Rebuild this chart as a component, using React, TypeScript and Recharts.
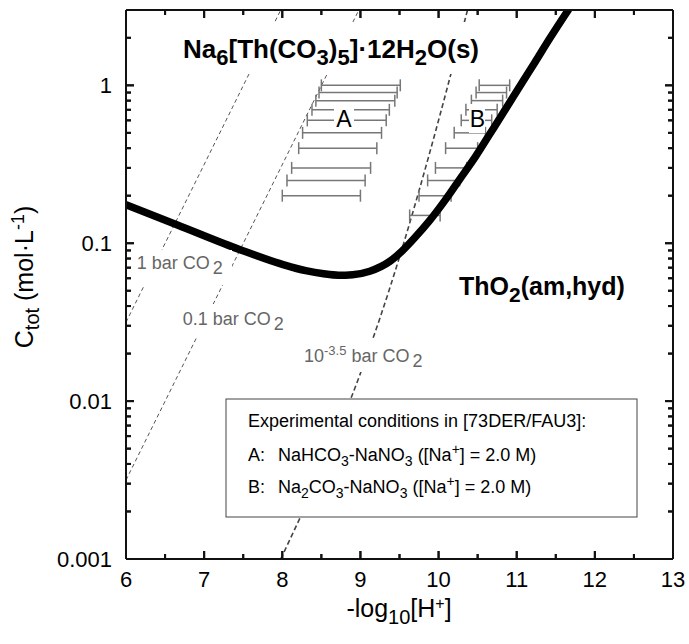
import type { ReactNode } from 'react';
import { ComposedChart, Line, Scatter, ErrorBar, XAxis, YAxis } from 'recharts';

// axis ticks
const xTicks = [6, 6.5, 7, 7.5, 8, 8.5, 9, 9.5, 10, 10.5, 11, 11.5, 12, 12.5, 13];
const xLabels = [6, 7, 8, 9, 10, 11, 12, 13];
const yTicks = [
  0.001, 0.002, 0.003, 0.004, 0.005, 0.006, 0.007, 0.008, 0.009,
  0.01, 0.02, 0.03, 0.04, 0.05, 0.06, 0.07, 0.08, 0.09,
  0.1, 0.2, 0.3, 0.4, 0.5, 0.6, 0.7, 0.8, 0.9,
  1, 2, 3,
];
const yLabels = [0.001, 0.01, 0.1, 1];
const xMin = 6;
const xMax = 13;
const yMin = 0.001;
const yMax = 3;

// ThO2(am,hyd) / Na6[Th(CO3)5]·12H2O(s) solubility boundary
const solPh = [6.0, 6.65, 7.46, 8.02, 8.3, 8.53, 8.72, 8.9, 9.12, 9.38, 9.53, 9.7, 9.89, 10.08, 10.27, 10.47, 10.66, 10.85, 11.04, 11.23, 11.42, 11.66];
const solC = [0.175, 0.131, 0.091, 0.073, 0.067, 0.064, 0.0627, 0.0632, 0.0665, 0.077, 0.089, 0.109, 0.14, 0.186, 0.254, 0.352, 0.495, 0.697, 0.986, 1.39, 1.97, 3.0];

// total carbonate at fixed pCO2
const bar1Ph = [6.0, 7.98];
const bar1C = [0.0316, 3.0];
const bar01Ph = [6.0, 8.98];
const bar01C = [0.00316, 3.0];
const barAirPh = [7.98, 8.5, 9.0, 9.25, 9.5, 9.75, 10.0, 10.2, 10.37];
const barAirC = [0.001, 0.00366, 0.015, 0.0336, 0.0817, 0.215, 0.601, 1.418, 3.0];

// experimental ranges [73DER/FAU3]
const aC = [1.0, 0.9, 0.8, 0.7, 0.6, 0.5, 0.4, 0.3, 0.25, 0.2];
const aLow = [8.5, 8.47, 8.43, 8.38, 8.32, 8.26, 8.21, 8.12, 8.06, 8.0];
const aHigh = [9.51, 9.47, 9.44, 9.37, 9.33, 9.27, 9.21, 9.13, 9.06, 9.0];
const bC = [1.0, 0.9, 0.8, 0.7, 0.6, 0.5, 0.4, 0.3, 0.25, 0.2, 0.15];
const bLow = [10.52, 10.48, 10.42, 10.35, 10.29, 10.2, 10.09, 9.96, 9.86, 9.75, 9.63];
const bHigh = [10.91, 10.87, 10.82, 10.75, 10.68, 10.6, 10.5, 10.36, 10.27, 10.16, 10.02];

const toLine = (ph: number[], c: number[]) => ph.map((p, i) => ({ ph: p, c: c[i] }));
const toRange = (c: number[], lo: number[], hi: number[]) =>
  c.map((v, i) => ({ ph: (lo[i] + hi[i]) / 2, c: v, err: (hi[i] - lo[i]) / 2 }));

const solData = toLine(solPh, solC);
const bar1Data = toLine(bar1Ph, bar1C);
const bar01Data = toLine(bar01Ph, bar01C);
const barAirData = toLine(barAirPh, barAirC);
const aData = toRange(aC, aLow, aHigh);
const bData = toRange(bC, bLow, bHigh);

// inward tick marks on all four sides of the frame
const tickMarks = [
  ...xTicks.map((v) => ({ ph: v, c: yMin, side: 'bottom', major: xLabels.includes(v) })),
  ...xTicks.map((v) => ({ ph: v, c: yMax, side: 'top', major: xLabels.includes(v) })),
  ...yTicks.map((v) => ({ ph: xMin, c: v, side: 'left', major: yLabels.includes(v) })),
  ...yTicks.map((v) => ({ ph: xMax, c: v, side: 'right', major: yLabels.includes(v) })),
];

const FONT = 'Arial, "Liberation Sans", sans-serif';
const AXIS = '#111';
const LABEL_GRAY = '#666';
const axisLineStyle = { stroke: AXIS, strokeWidth: 2 };

const tickPath = (side: string, x: number, y: number, major: boolean) => {
  const len = major ? 8 : 5;
  if (side === 'bottom') return `M${x},${y}v${-len}`;
  if (side === 'top') return `M${x},${y}v${len}`;
  if (side === 'left') return `M${x},${y}h${len}`;
  return `M${x},${y}h${-len}`;
};

const TickMark = (p: any) => {
  const { cx, cy, payload } = p;
  if (!payload || cx == null || cy == null) return <g />;
  return <path d={tickPath(payload.side, cx, cy, payload.major)} stroke={AXIS} strokeWidth={2} fill="none" />;
};

const BottomTick = (p: any) => {
  const major = xLabels.includes(p.payload.value);
  return (
    <g>
      <path d={tickPath('bottom', p.x, p.y, major)} stroke={AXIS} strokeWidth={2} fill="none" />
      {major && (
        <text x={p.x} y={p.y + 28} textAnchor="middle" fontSize={22} fontFamily={FONT} fill="#000">
          {p.payload.value}
        </text>
      )}
    </g>
  );
};

const TopTick = (p: any) => (
  <path d={tickPath('top', p.x, p.y, xLabels.includes(p.payload.value))} stroke={AXIS} strokeWidth={2} fill="none" />
);

const LeftTick = (p: any) => {
  const major = yLabels.includes(p.payload.value);
  return (
    <g>
      <path d={tickPath('left', p.x, p.y, major)} stroke={AXIS} strokeWidth={2} fill="none" />
      {major && (
        <text x={p.x - 14} y={p.y + 8} textAnchor="end" fontSize={22} fontFamily={FONT} fill="#000">
          {String(p.payload.value)}
        </text>
      )}
    </g>
  );
};

const RightTick = (p: any) => (
  <path d={tickPath('right', p.x, p.y, yLabels.includes(p.payload.value))} stroke={AXIS} strokeWidth={2} fill="none" />
);

const noDot = () => <g />;

// small absolutely-placed svg, using page coordinates inside
function Box({ x, y, w, h, children }: { x: number; y: number; w: number; h: number; children: ReactNode }) {
  return (
    <svg
      width={w}
      height={h}
      viewBox={`${x} ${y} ${w} ${h}`}
      style={{ position: 'absolute', left: x, top: y, pointerEvents: 'none', overflow: 'visible' }}
      fontFamily={FONT}
    >
      {children}
    </svg>
  );
}

function Annotations() {
  return (
    <>
      {/* phase labels */}
      <Box x={170} y={15} w={335} h={65}>
        <rect x={175} y={22} width={322} height={52} fill="#fff" />
        <text x={183} y={58} fontSize={26} fontWeight="bold" fill="#000">
          Na<tspan dy={7} fontSize={22}>6</tspan>
          <tspan dy={-7}>[Th(CO</tspan>
          <tspan dy={7} fontSize={22}>3</tspan>
          <tspan dy={-7}>)</tspan>
          <tspan dy={7} fontSize={22}>5</tspan>
          <tspan dy={-7}>]·12H</tspan>
          <tspan dy={7} fontSize={22}>2</tspan>
          <tspan dy={-7}>O(s)</tspan>
        </text>
      </Box>
      <Box x={450} y={265} w={200} h={47}>
        <text x={459} y={295} fontSize={25} fontWeight="bold" fill="#000">
          ThO<tspan dy={7} fontSize={21}>2</tspan>
          <tspan dy={-7}>(am,hyd)</tspan>
        </text>
      </Box>

      {/* A / B */}
      <Box x={330} y={100} w={28} h={35}>
        <rect x={334} y={104} width={20} height={27} fill="#fff" />
        <text x={343.8} y={126.7} fontSize={23} textAnchor="middle" fill="#000">A</text>
      </Box>
      <Box x={465} y={100} w={24} h={37}>
        <rect x={469} y={104} width={16} height={29} fill="#fff" />
        <text x={477.5} y={126.7} fontSize={23} textAnchor="middle" fill="#000">B</text>
      </Box>

      {/* CO2 labels */}
      <Box x={130} y={245} w={106} h={45}>
        <rect x={134} y={250} width={98} height={35} fill="#fff" />
        <text x={136.7} y={269} fontSize={18} fill={LABEL_GRAY}>
          1 bar CO<tspan dx={3} dy={5}>2</tspan>
        </text>
      </Box>
      <Box x={176} y={300} w={118} h={42}>
        <rect x={180} y={304} width={110} height={34} fill="#fff" />
        <text x={182.7} y={325} fontSize={18} fill={LABEL_GRAY}>
          0.1 bar CO<tspan dx={3} dy={5}>2</tspan>
        </text>
      </Box>
      <Box x={297} y={335} w={139} h={41}>
        <rect x={301} y={339} width={131} height={33} fill="#fff" />
        <text x={304} y={361.7} fontSize={18} fill={LABEL_GRAY}>
          10<tspan dy={-7} fontSize={13}>-3.5</tspan>
          <tspan dy={7}> bar CO</tspan>
          <tspan dx={3} dy={5}>2</tspan>
        </text>
      </Box>

      {/* legend box */}
      <Box x={224} y={397} w={416} h={123}>
        <rect x={226} y={399} width={411} height={118} fill="#fff" stroke="#444" strokeWidth={1} />
        <text x={248} y={427} fontSize={18} fill="#000">Experimental conditions in [73DER/FAU3]:</text>
        <text x={248} y={461} fontSize={18} fill="#000">A:</text>
        <text x={278} y={461} fontSize={18} fill="#000">
          NaHCO<tspan dy={5} fontSize={14}>3</tspan>
          <tspan dy={-5}>-NaNO</tspan>
          <tspan dy={5} fontSize={14}>3</tspan>
          <tspan dy={-5}> ([Na</tspan>
          <tspan dy={-7} fontSize={14}>+</tspan>
          <tspan dy={7}>] = 2.0 M)</tspan>
        </text>
        <text x={248} y={493} fontSize={18} fill="#000">B:</text>
        <text x={278} y={493} fontSize={18} fill="#000">
          Na<tspan dy={5} fontSize={14}>2</tspan>
          <tspan dy={-5}>CO</tspan>
          <tspan dy={5} fontSize={14}>3</tspan>
          <tspan dy={-5}>-NaNO</tspan>
          <tspan dy={5} fontSize={14}>3</tspan>
          <tspan dy={-5}> ([Na</tspan>
          <tspan dy={-7} fontSize={14}>+</tspan>
          <tspan dy={7}>] = 2.0 M)</tspan>
        </text>
      </Box>

      {/* axis titles */}
      <Box x={300} y={590} w={200} h={54}>
        <text x={399} y={617} fontSize={25} textAnchor="middle" fill="#000">
          -log<tspan dy={7} fontSize={20}>10</tspan>
          <tspan dy={-7}>[H</tspan>
          <tspan dy={-8} fontSize={16}>+</tspan>
          <tspan dy={8}>]</tspan>
        </text>
      </Box>
      <Box x={0} y={170} w={48} h={220}>
        <text transform="rotate(-90)" x={-277} y={33} fontSize={25} textAnchor="middle" fill="#000">
          C<tspan dy={6} fontSize={20}>tot</tspan>
          <tspan dy={-6}> (mol·L</tspan>
          <tspan dy={-9} fontSize={18}>-1</tspan>
          <tspan dy={9}>)</tspan>
        </text>
      </Box>
    </>
  );
}

export default function App() {
  return (
    <div style={{ position: 'absolute', left: 0, top: 0, width: 689, height: 644, background: '#fff' }}>
      <ComposedChart width={689} height={644} margin={{ top: 9, right: 15, bottom: 0, left: 0 }}>
        <XAxis
          xAxisId="bottom"
          dataKey="ph"
          type="number"
          domain={[xMin, xMax]}
          ticks={xTicks}
          interval={0}
          allowDataOverflow
          height={85}
          tickSize={-5}
          tickMargin={5}
          tickLine={false}
          tick={BottomTick}
          axisLine={axisLineStyle}
        />
        <XAxis
          xAxisId="top"
          orientation="top"
          dataKey="ph"
          type="number"
          domain={[xMin, xMax]}
          ticks={xTicks}
          interval={0}
          allowDataOverflow
          height={1}
          tickSize={-5}
          tickMargin={5}
          tickLine={false}
          tick={TopTick}
          axisLine={axisLineStyle}
        />
        <YAxis
          yAxisId="left"
          dataKey="c"
          type="number"
          scale="log"
          domain={[yMin, yMax]}
          ticks={yTicks}
          interval={0}
          allowDataOverflow
          width={126}
          tickSize={-5}
          tickMargin={5}
          tickLine={false}
          tick={LeftTick}
          axisLine={axisLineStyle}
        />
        <YAxis
          yAxisId="right"
          orientation="right"
          dataKey="c"
          type="number"
          scale="log"
          domain={[yMin, yMax]}
          ticks={yTicks}
          interval={0}
          allowDataOverflow
          width={1}
          tickSize={-5}
          tickMargin={5}
          tickLine={false}
          tick={RightTick}
          axisLine={axisLineStyle}
        />

        {/* invisible copy so the top / right frame axes get drawn */}
        <Line
          xAxisId="top"
          yAxisId="right"
          data={solData}
          dataKey="c"
          stroke="#000"
          strokeOpacity={0}
          dot={false}
          activeDot={false}
          isAnimationActive={false}
        />

        <Line
          xAxisId="bottom"
          yAxisId="left"
          data={bar1Data}
          dataKey="c"
          type="linear"
          stroke="#555"
          strokeWidth={1}
          strokeDasharray="4 3"
          dot={false}
          activeDot={false}
          isAnimationActive={false}
        />
        <Line
          xAxisId="bottom"
          yAxisId="left"
          data={bar01Data}
          dataKey="c"
          type="linear"
          stroke="#555"
          strokeWidth={1}
          strokeDasharray="4 3"
          dot={false}
          activeDot={false}
          isAnimationActive={false}
        />
        <Line
          xAxisId="bottom"
          yAxisId="left"
          data={barAirData}
          dataKey="c"
          type="monotone"
          stroke="#444"
          strokeWidth={1.6}
          strokeDasharray="5 3"
          dot={false}
          activeDot={false}
          isAnimationActive={false}
        />

        <Scatter xAxisId="bottom" yAxisId="left" data={aData} dataKey="c" shape={noDot} isAnimationActive={false}>
          <ErrorBar dataKey="err" direction="x" width={6} stroke="#777" strokeWidth={1.5} isAnimationActive={false} />
        </Scatter>
        <Scatter xAxisId="bottom" yAxisId="left" data={bData} dataKey="c" shape={noDot} isAnimationActive={false}>
          <ErrorBar dataKey="err" direction="x" width={6} stroke="#777" strokeWidth={1.5} isAnimationActive={false} />
        </Scatter>

        <Scatter
          xAxisId="bottom"
          yAxisId="left"
          data={tickMarks}
          dataKey="c"
          shape={TickMark}
          isAnimationActive={false}
        />

        <Line
          xAxisId="bottom"
          yAxisId="left"
          data={solData}
          dataKey="c"
          type="monotone"
          stroke="#000"
          strokeWidth={7.5}
          strokeLinecap="round"
          strokeLinejoin="round"
          dot={false}
          activeDot={false}
          isAnimationActive={false}
        />
      </ComposedChart>
      <Annotations />
    </div>
  );
}
